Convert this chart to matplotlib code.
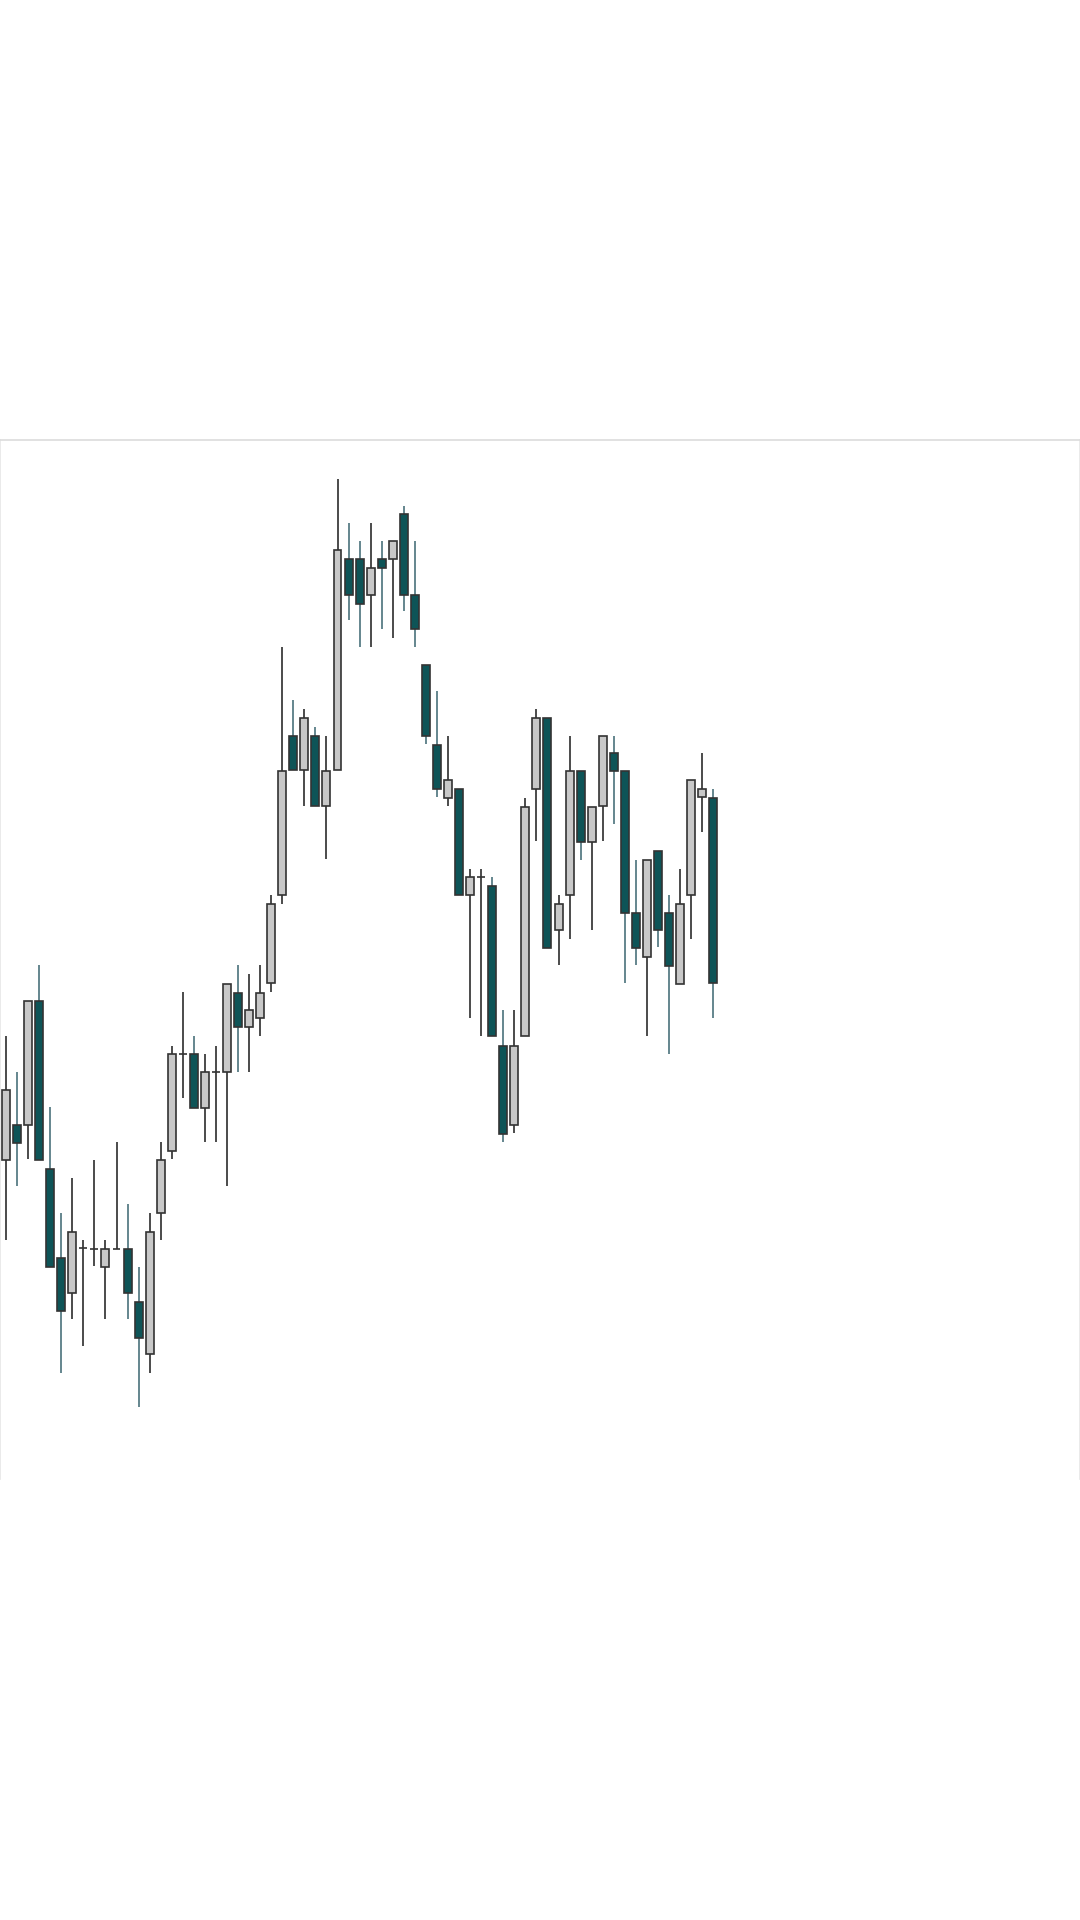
import numpy as np
import matplotlib
matplotlib.use('Agg')
import matplotlib.pyplot as plt

# candle values (open, high, low, close), one entry per bar
opens = [31.9, 35.4, 35.4, 47.8, 31.0, 22.1, 18.6, 23.1, 23.0, 21.2,
         23.0, 23.0, 17.7, 12.5, 26.6, 32.8, 42.5, 42.5, 37.1, 40.7,
         40.7, 48.6, 45.2, 46.1, 49.6, 58.4, 74.3, 70.9, 74.3, 67.3,
         70.9, 92.0, 92.0, 88.4, 92.0, 92.0, 96.5, 88.4, 81.4, 73.4,
         68.1, 69.0, 58.4, 60.2, 59.3, 43.3, 35.4, 44.3, 69.0, 76.1,
         54.9, 58.4, 70.8, 63.7, 67.3, 72.6, 70.8, 56.6, 52.2, 62.8,
         56.6, 49.5, 58.4, 68.2, 68.1]
highs = [44.3, 40.7, 47.8, 51.4, 37.2, 26.6, 30.1, 23.9, 31.9, 23.9,
         33.7, 27.5, 21.2, 26.6, 33.7, 43.3, 48.7, 44.3, 42.5, 43.3,
         49.5, 51.4, 50.5, 51.4, 58.4, 83.2, 77.9, 77.0, 75.2, 74.3,
         100.0, 95.6, 93.8, 95.6, 93.8, 93.8, 97.3, 93.8, 81.4, 78.8,
         74.3, 69.0, 61.0, 61.0, 60.2, 46.9, 46.9, 68.1, 77.0, 76.1,
         58.4, 74.3, 70.8, 67.2, 74.3, 74.3, 70.8, 61.9, 61.9, 62.8,
         58.4, 61.0, 69.9, 72.6, 69.0]
lows = [23.9, 29.3, 32.0, 31.9, 21.2, 10.6, 16.0, 13.3, 21.3, 16.0,
        23.0, 16.0, 7.2, 10.6, 23.9, 32.0, 38.1, 37.1, 33.7, 33.7,
        29.3, 40.7, 40.7, 44.3, 48.7, 57.5, 70.9, 67.3, 67.3, 62.0,
        70.9, 85.9, 83.2, 83.2, 85.0, 84.1, 86.8, 83.2, 73.5, 68.2,
        67.3, 58.4, 46.1, 44.3, 44.3, 33.7, 34.6, 44.3, 63.8, 53.1,
        51.4, 54.0, 61.9, 54.9, 63.8, 65.5, 49.6, 51.4, 44.3, 53.2,
        42.5, 49.5, 54.0, 64.7, 46.1]
closes = [38.9, 33.6, 47.8, 31.9, 21.2, 16.8, 24.7, 23.1, 23.0, 23.0,
          23.0, 18.6, 14.1, 24.7, 31.9, 42.5, 42.5, 37.1, 40.7, 40.7,
          49.5, 45.2, 46.9, 48.6, 57.5, 70.8, 70.9, 76.1, 67.3, 70.8,
          92.9, 88.4, 87.5, 91.1, 91.1, 93.8, 88.4, 85.0, 74.3, 69.0,
          69.9, 58.4, 60.2, 60.2, 44.3, 34.5, 43.3, 67.2, 76.1, 53.1,
          57.5, 70.8, 63.7, 67.2, 74.3, 70.8, 56.6, 53.1, 61.9, 54.9,
          51.3, 57.5, 69.9, 69.0, 49.6]

# colours
up_fill = '#c8c8c8'
down_fill = '#0e5457'
edge_col = '#333333'
up_wick = '#1a1a1a'
down_wick = '#3a6670'

o = np.array(opens)
h = np.array(highs)
l = np.array(lows)
c = np.array(closes)
x = np.arange(len(o))
up = c >= o

fig = plt.figure(figsize=(10.8, 19.2), dpi=100)
ax = fig.add_axes([0, 441 / 1920, 1, 1039 / 1920])

# wicks first so the bodies sit on top of them
ax.vlines(x[up], l[up], h[up], color=up_wick, linewidth=1.1, zorder=1)
ax.vlines(x[~up], l[~up], h[~up], color=down_wick, linewidth=1.1, zorder=1)

# bodies
body_bottom = np.minimum(o, c)
body_height = np.abs(c - o)
ax.bar(x[up], body_height[up], bottom=body_bottom[up], width=0.72,
       color=up_fill, edgecolor=edge_col, linewidth=1.2, zorder=2)
ax.bar(x[~up], body_height[~up], bottom=body_bottom[~up], width=0.72,
       color=down_fill, edgecolor=edge_col, linewidth=1.2, zorder=2)

ax.set_xlim(-0.543, 97.19)
ax.set_ylim(0, 103.9)

# no ticks, just a faint frame
ax.set_xticks([])
ax.set_yticks([])
ax.spines['bottom'].set_visible(False)
ax.spines['top'].set_color('#dcdcdc')
ax.spines['left'].set_color('#e6e6e6')
ax.spines['right'].set_color('#e6e6e6')
for s in ['top', 'left', 'right']:
    ax.spines[s].set_linewidth(1.2)

fig.savefig('out.png', dpi=100, facecolor='white')
